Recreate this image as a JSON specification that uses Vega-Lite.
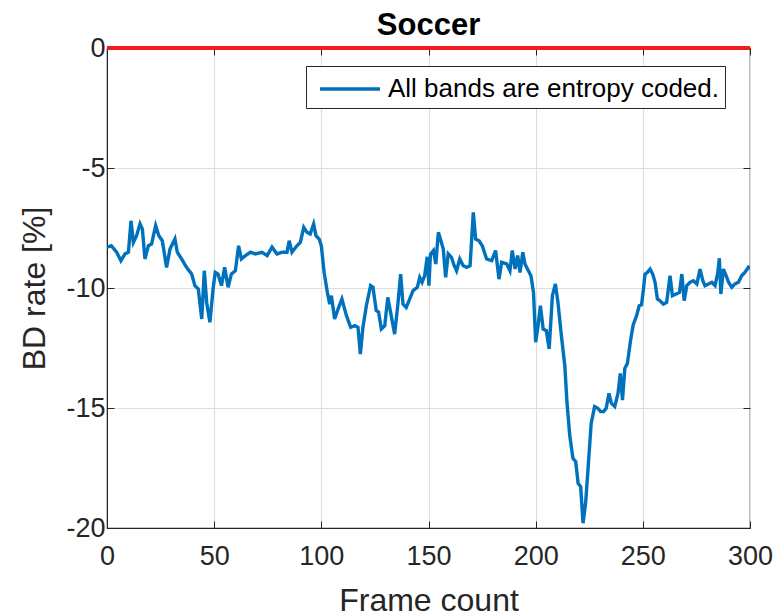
{
  "$schema": "https://vega.github.io/schema/vega-lite/v6.json",
  "width": 643,
  "height": 480,
  "autosize": {"type": "none"},
  "padding": {"left": 107, "top": 48, "right": 26, "bottom": 88},
  "background": "white",
  "title": {"text": "Soccer", "fontSize": 31, "fontWeight": "bold", "color": "#000000", "font": "Liberation Sans", "offset": 12, "dy": 20, "anchor": "middle"},
  "config": {
    "font": "Liberation Sans",
    "view": {"stroke": "#262626", "strokeWidth": 1.2},
    "axis": {
      "gridColor": "#dddddd",
      "gridWidth": 1,
      "domainColor": "#262626",
      "tickColor": "#262626",
      "tickSize": -7,
      "labelFontSize": 27,
      "labelColor": "#262626",
      "titleFontSize": 32,
      "titleFontWeight": "normal",
      "titleColor": "#262626",
      "labelFont": "Liberation Sans",
      "titleFont": "Liberation Sans"
    }
  },
  "data": {"values": [
    {"frame": 0, "bd": -8.30}, {"frame": 2, "bd": -8.24}, {"frame": 4.5, "bd": -8.51}, {"frame": 6.5, "bd": -8.86},
    {"frame": 8.4, "bd": -8.58}, {"frame": 10, "bd": -8.51}, {"frame": 11.2, "bd": -7.2}, {"frame": 12.3, "bd": -8.1},
    {"frame": 13.8, "bd": -7.82}, {"frame": 15.4, "bd": -7.33}, {"frame": 16.5, "bd": -7.54}, {"frame": 17.7, "bd": -8.79},
    {"frame": 19.3, "bd": -8.24}, {"frame": 20.8, "bd": -8.17}, {"frame": 22.7, "bd": -7.40}, {"frame": 24.2, "bd": -7.82},
    {"frame": 25.8, "bd": -8.03}, {"frame": 27.8, "bd": -9.14}, {"frame": 29.4, "bd": -8.38}, {"frame": 31.7, "bd": -7.96},
    {"frame": 32.8, "bd": -8.51}, {"frame": 34.8, "bd": -8.79}, {"frame": 37.1, "bd": -9.14}, {"frame": 39.5, "bd": -9.42},
    {"frame": 41, "bd": -9.90}, {"frame": 42.6, "bd": -10.04}, {"frame": 44.2, "bd": -11.29}, {"frame": 45.4, "bd": -9.28},
    {"frame": 46.5, "bd": -10.6}, {"frame": 48, "bd": -11.43}, {"frame": 49.5, "bd": -10.04}, {"frame": 50.5, "bd": -9.35},
    {"frame": 51.8, "bd": -9.42}, {"frame": 53.4, "bd": -9.9}, {"frame": 54.9, "bd": -9.14}, {"frame": 56.5, "bd": -9.97},
    {"frame": 58, "bd": -9.42}, {"frame": 59.9, "bd": -9.28}, {"frame": 61.4, "bd": -8.24}, {"frame": 62.7, "bd": -8.79},
    {"frame": 64.6, "bd": -8.65}, {"frame": 66.9, "bd": -8.51}, {"frame": 69.2, "bd": -8.58}, {"frame": 72.3, "bd": -8.51},
    {"frame": 74.7, "bd": -8.65}, {"frame": 77, "bd": -8.3}, {"frame": 79.3, "bd": -8.58}, {"frame": 81.7, "bd": -8.51},
    {"frame": 84, "bd": -8.51}, {"frame": 85, "bd": -8.03}, {"frame": 86.3, "bd": -8.51}, {"frame": 88.6, "bd": -8.24},
    {"frame": 90.2, "bd": -8.1}, {"frame": 91.8, "bd": -7.47}, {"frame": 93.3, "bd": -7.68}, {"frame": 94.8, "bd": -7.75},
    {"frame": 96.4, "bd": -7.33}, {"frame": 97.5, "bd": -7.82}, {"frame": 99, "bd": -7.96}, {"frame": 100, "bd": -8.24},
    {"frame": 101.3, "bd": -9.35}, {"frame": 102.8, "bd": -10.18}, {"frame": 103.9, "bd": -10.67}, {"frame": 104.7, "bd": -10.32},
    {"frame": 106.2, "bd": -11.29}, {"frame": 107.8, "bd": -10.88}, {"frame": 109.6, "bd": -10.46}, {"frame": 111.7, "bd": -11.15},
    {"frame": 113.7, "bd": -11.64}, {"frame": 115.6, "bd": -11.57}, {"frame": 117.1, "bd": -11.64}, {"frame": 118.2, "bd": -12.75},
    {"frame": 119.4, "bd": -11.64}, {"frame": 121, "bd": -10.74}, {"frame": 123, "bd": -9.9}, {"frame": 124.1, "bd": -9.97},
    {"frame": 125.6, "bd": -10.94}, {"frame": 126.7, "bd": -11.0}, {"frame": 128, "bd": -11.71}, {"frame": 129.6, "bd": -11.57},
    {"frame": 131, "bd": -10.39}, {"frame": 132.6, "bd": -11.15}, {"frame": 134.2, "bd": -11.92}, {"frame": 135.8, "bd": -10.6},
    {"frame": 137, "bd": -9.42}, {"frame": 138.1, "bd": -10.67}, {"frame": 139.6, "bd": -10.81}, {"frame": 141.2, "bd": -10.46},
    {"frame": 142.8, "bd": -10.11}, {"frame": 144.8, "bd": -9.97}, {"frame": 145.9, "bd": -9.56}, {"frame": 147, "bd": -9.76},
    {"frame": 148.2, "bd": -9.49}, {"frame": 149.4, "bd": -8.7}, {"frame": 150.2, "bd": -9.9}, {"frame": 150.9, "bd": -8.6},
    {"frame": 152.3, "bd": -8.44}, {"frame": 153.4, "bd": -9.0}, {"frame": 154.6, "bd": -7.68}, {"frame": 155.8, "bd": -8.03},
    {"frame": 156.9, "bd": -8.38}, {"frame": 158, "bd": -9.56}, {"frame": 159.2, "bd": -8.58}, {"frame": 160.7, "bd": -8.72},
    {"frame": 162, "bd": -9.07}, {"frame": 163.1, "bd": -9.28}, {"frame": 164.6, "bd": -8.79}, {"frame": 166.2, "bd": -9.07},
    {"frame": 167.8, "bd": -9.14}, {"frame": 169.4, "bd": -9.07}, {"frame": 170.9, "bd": -6.85}, {"frame": 172, "bd": -7.96},
    {"frame": 173.6, "bd": -8.03}, {"frame": 175.1, "bd": -8.24}, {"frame": 177.1, "bd": -8.79}, {"frame": 179.5, "bd": -8.86},
    {"frame": 181.3, "bd": -8.44}, {"frame": 182.9, "bd": -9.63}, {"frame": 184.1, "bd": -8.93}, {"frame": 186.5, "bd": -9.0},
    {"frame": 188, "bd": -9.28}, {"frame": 189.1, "bd": -8.44}, {"frame": 190.4, "bd": -9.21}, {"frame": 191.6, "bd": -8.65},
    {"frame": 192.7, "bd": -9.35}, {"frame": 194, "bd": -8.51}, {"frame": 195, "bd": -9.0}, {"frame": 196.6, "bd": -9.28},
    {"frame": 197.8, "bd": -9.49}, {"frame": 199, "bd": -10.2}, {"frame": 200, "bd": -12.26}, {"frame": 201.1, "bd": -11.57},
    {"frame": 202.2, "bd": -10.74}, {"frame": 203.5, "bd": -11.71}, {"frame": 205, "bd": -11.78}, {"frame": 206.3, "bd": -12.54},
    {"frame": 207.8, "bd": -10.32}, {"frame": 209.2, "bd": -9.83}, {"frame": 210.4, "bd": -10.6}, {"frame": 212, "bd": -11.99},
    {"frame": 213.6, "bd": -13.24}, {"frame": 214.6, "bd": -14.76}, {"frame": 215.9, "bd": -16.15}, {"frame": 217.4, "bd": -17.1},
    {"frame": 218.7, "bd": -17.24}, {"frame": 219.8, "bd": -18.14}, {"frame": 221, "bd": -18.28}, {"frame": 222.1, "bd": -19.8},
    {"frame": 223.3, "bd": -18.96}, {"frame": 224.4, "bd": -17.58}, {"frame": 225.9, "bd": -15.64}, {"frame": 227.5, "bd": -14.94},
    {"frame": 229, "bd": -15.01}, {"frame": 230.3, "bd": -15.15}, {"frame": 231.7, "bd": -15.15}, {"frame": 232.9, "bd": -15.01},
    {"frame": 234.2, "bd": -14.39}, {"frame": 235.3, "bd": -14.8}, {"frame": 236.9, "bd": -14.94}, {"frame": 238.4, "bd": -14.39},
    {"frame": 239.5, "bd": -13.56}, {"frame": 240.5, "bd": -14.67}, {"frame": 241.6, "bd": -13.35}, {"frame": 242.8, "bd": -13.14},
    {"frame": 244.3, "bd": -12.17}, {"frame": 245.5, "bd": -11.54}, {"frame": 247.1, "bd": -11.15}, {"frame": 248.3, "bd": -10.74},
    {"frame": 249.4, "bd": -10.7}, {"frame": 250.3, "bd": -10.04}, {"frame": 251, "bd": -9.42}, {"frame": 252.1, "bd": -9.35},
    {"frame": 253.4, "bd": -9.21}, {"frame": 254.6, "bd": -9.42}, {"frame": 255.7, "bd": -9.76}, {"frame": 256.8, "bd": -10.46},
    {"frame": 258, "bd": -10.53}, {"frame": 259.6, "bd": -10.67}, {"frame": 261.1, "bd": -10.6}, {"frame": 262.7, "bd": -9.49},
    {"frame": 263.8, "bd": -10.32}, {"frame": 265.5, "bd": -10.25}, {"frame": 267.1, "bd": -10.18}, {"frame": 268.2, "bd": -9.42},
    {"frame": 269.3, "bd": -10.53}, {"frame": 270.5, "bd": -9.9}, {"frame": 272.1, "bd": -9.76}, {"frame": 273.6, "bd": -9.70},
    {"frame": 275.2, "bd": -9.83}, {"frame": 276.7, "bd": -9.21}, {"frame": 278, "bd": -9.70}, {"frame": 279, "bd": -9.9},
    {"frame": 280.6, "bd": -9.83}, {"frame": 282.2, "bd": -9.76}, {"frame": 283.7, "bd": -9.9}, {"frame": 285, "bd": -9.35},
    {"frame": 285.7, "bd": -8.76}, {"frame": 286.4, "bd": -10.25}, {"frame": 287.6, "bd": -9.21}, {"frame": 288.9, "bd": -9.49},
    {"frame": 290, "bd": -9.76}, {"frame": 291.5, "bd": -9.97}, {"frame": 293, "bd": -9.83}, {"frame": 294.6, "bd": -9.76},
    {"frame": 296.1, "bd": -9.49}, {"frame": 297.6, "bd": -9.35}, {"frame": 299.2, "bd": -9.14}, {"frame": 300, "bd": -9.2}
  ]},
  "resolve": {"axis": {"x": "independent", "y": "independent"}},
  "layer": [
    {
      "mark": {"type": "line", "strokeWidth": 3.4, "clip": true},
      "encoding": {
        "x": {"field": "frame", "type": "quantitative", "title": "Frame count",
              "scale": {"domain": [0, 300], "nice": false},
              "axis": {"orient": "bottom", "values": [0, 50, 100, 150, 200, 250, 300], "labelPadding": 22, "titlePadding": 16, "labelFlush": false,
                       "labelExpr": "toString(datum.value)"}},
        "y": {"field": "bd", "type": "quantitative", "title": "BD rate [%]",
              "scale": {"domain": [-20, 0], "nice": false},
              "axis": {"orient": "left", "values": [-20, -15, -10, -5, 0], "labelPadding": 9, "titlePadding": 14,
                       "labelExpr": "toString(datum.value)"}},
        "color": {"datum": "All bands are entropy coded.", "type": "nominal",
                  "scale": {"range": ["#0072BD"]},
                  "legend": {"title": null, "orient": "none", "legendX": 199, "legendY": 18,
                             "symbolType": "M-0.6,0H3.4", "symbolSize": 900, "symbolStrokeWidth": 3.4,
                             "symbolStrokeColor": "#0072BD", "symbolFillColor": "transparent",
                             "labelFontSize": 26, "labelColor": "#000000", "labelFont": "Liberation Sans",
                             "labelLimit": 0, "labelOffset": 42, "padding": 6, "strokeColor": "#262626", "fillColor": "white",
                             "cornerRadius": 0}}
      }
    },
    {
      "mark": {"type": "rule", "color": "#ee1c1c", "strokeWidth": 3.5},
      "encoding": {
        "x": {"datum": 0, "type": "quantitative",
              "axis": {"orient": "top", "values": [0, 50, 100, 150, 200, 250, 300], "labels": false, "title": null, "grid": false, "domain": false}},
        "x2": {"datum": 300},
        "y": {"datum": 0, "type": "quantitative",
              "axis": {"orient": "right", "values": [-20, -15, -10, -5, 0], "labels": false, "title": null, "grid": false, "domain": false}}
      }
    }
  ]
}
